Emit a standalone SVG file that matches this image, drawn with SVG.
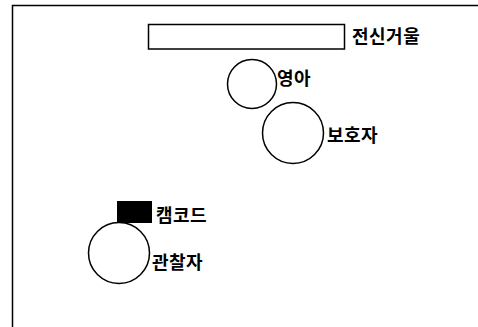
<svg xmlns="http://www.w3.org/2000/svg" width="478" height="327" viewBox="0 0 478 327">
<style>
.ln{fill:none;stroke:#000;stroke-width:1.5}
.c{fill:#fff;stroke:#000;stroke-width:1.5}
.t{font-family:"Noto Sans CJK KR","Noto Sans",sans-serif;font-size:18px;font-weight:bold;letter-spacing:0.5px;fill:#000}
</style>
<rect width="478" height="327" fill="#fff"/>
<path class="ln" d="M12.5,327 V5.5 H478"/>
<g id="mirror">
<rect class="c" x="148.5" y="24.5" width="196" height="24.5"/>
<text class="t" x="352" y="43">전신거울</text>
</g>
<g id="infant">
<circle class="c" cx="252" cy="84" r="24.5"/>
<text class="t" x="277" y="85">영아</text>
</g>
<g id="guardian">
<circle class="c" cx="293" cy="133" r="30.5"/>
<text class="t" x="327" y="142">보호자</text>
</g>
<g id="camcorder">
<rect x="117" y="201" width="35" height="22" fill="#000"/>
<text class="t" x="156" y="222">캠코드</text>
</g>
<g id="observer">
<circle class="c" cx="119" cy="253" r="30.5"/>
<text class="t" x="152" y="269">관찰자</text>
</g>
<g id="connectors"></g>
</svg>
